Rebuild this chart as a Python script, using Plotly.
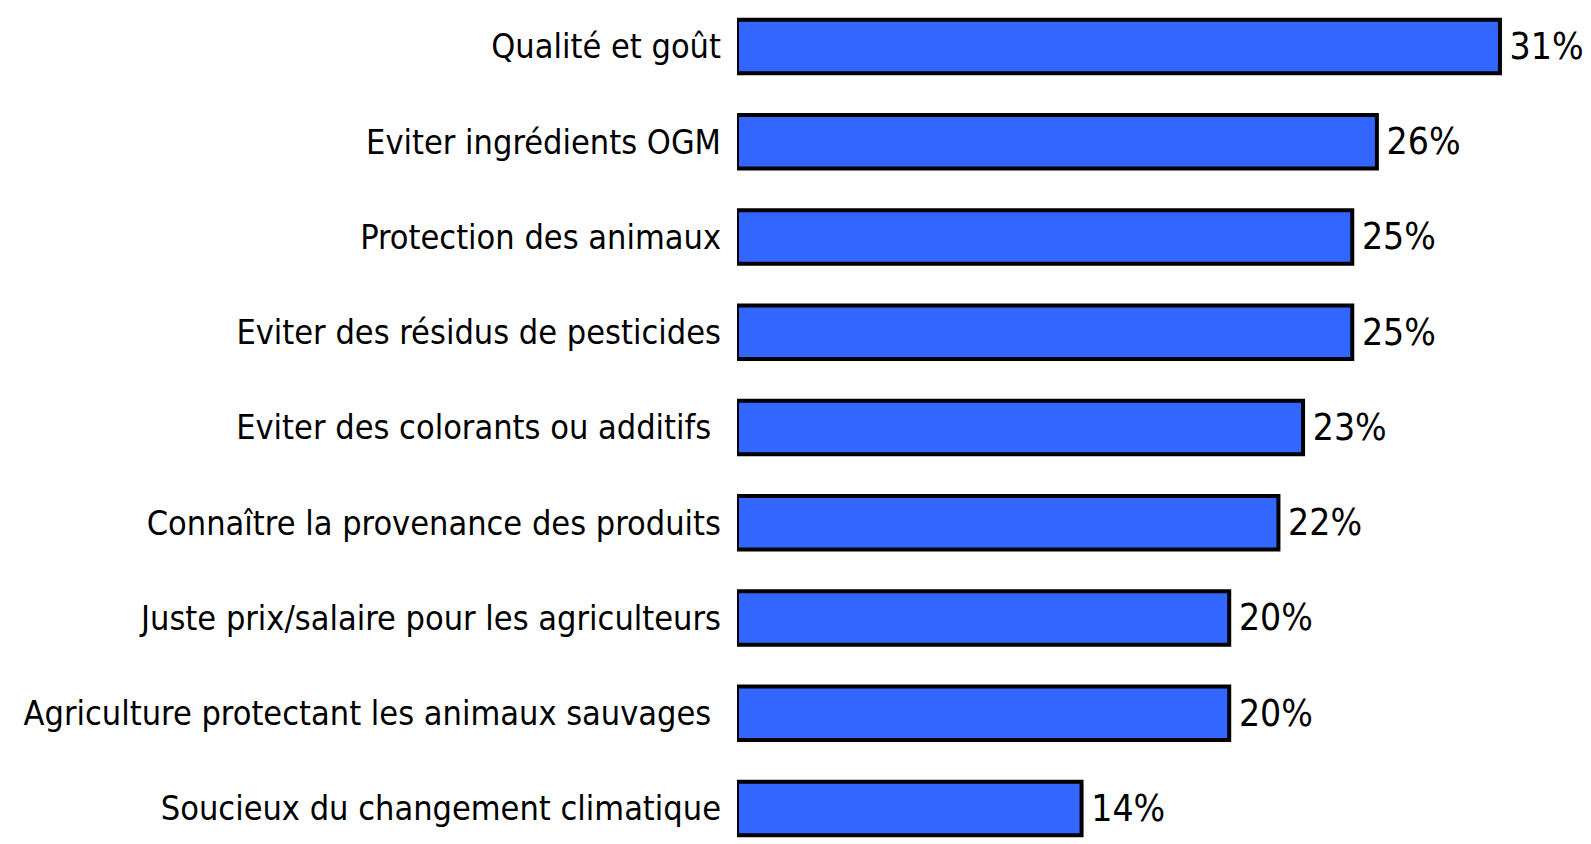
import plotly.graph_objects as go

categories = [
    "Qualité et goût",
    "Eviter ingrédients OGM",
    "Protection des animaux",
    "Eviter des résidus de pesticides",
    "Eviter des colorants ou additifs\u00a0",
    "Connaître la provenance des produits",
    "Juste prix/salaire pour les agriculteurs",
    "Agriculture protectant les animaux sauvages\u00a0",
    "Soucieux du changement climatique",
]
values = [31, 26, 25, 25, 23, 22, 20, 20, 14]

FONT = "DejaVu Sans Condensed, Liberation Sans Narrow, sans-serif"

fig = go.Figure(go.Bar(
    x=values,
    y=categories,
    orientation="h",
    marker=dict(color="#3366FF", line=dict(color="black", width=4)),
    width=0.56,
    text=[f"\u2009{v}%" for v in values],
    textposition="outside",
    textfont=dict(family=FONT, size=37, color="black"),
    constraintext="none",
    cliponaxis=False,
))

# page body has an 8px margin, so the figure is 8px smaller than the window
fig.update_layout(
    width=1583, height=836,
    margin=dict(l=729, r=0, t=0, b=0),
    plot_bgcolor="white",
    paper_bgcolor="white",
    showlegend=False,
    font=dict(family=FONT, size=34, color="black"),
    xaxis=dict(range=[0, 34.7], visible=False, fixedrange=True, automargin=False),
    yaxis=dict(
        categoryorder="array", categoryarray=categories,
        range=[8.373, -0.404],
        ticks="", showline=False, showgrid=False,
        automargin=False,
        ticklabelstandoff=15,
        tickfont=dict(family=FONT, size=34, color="black"),
    ),
)

fig.write_html("out.html")
